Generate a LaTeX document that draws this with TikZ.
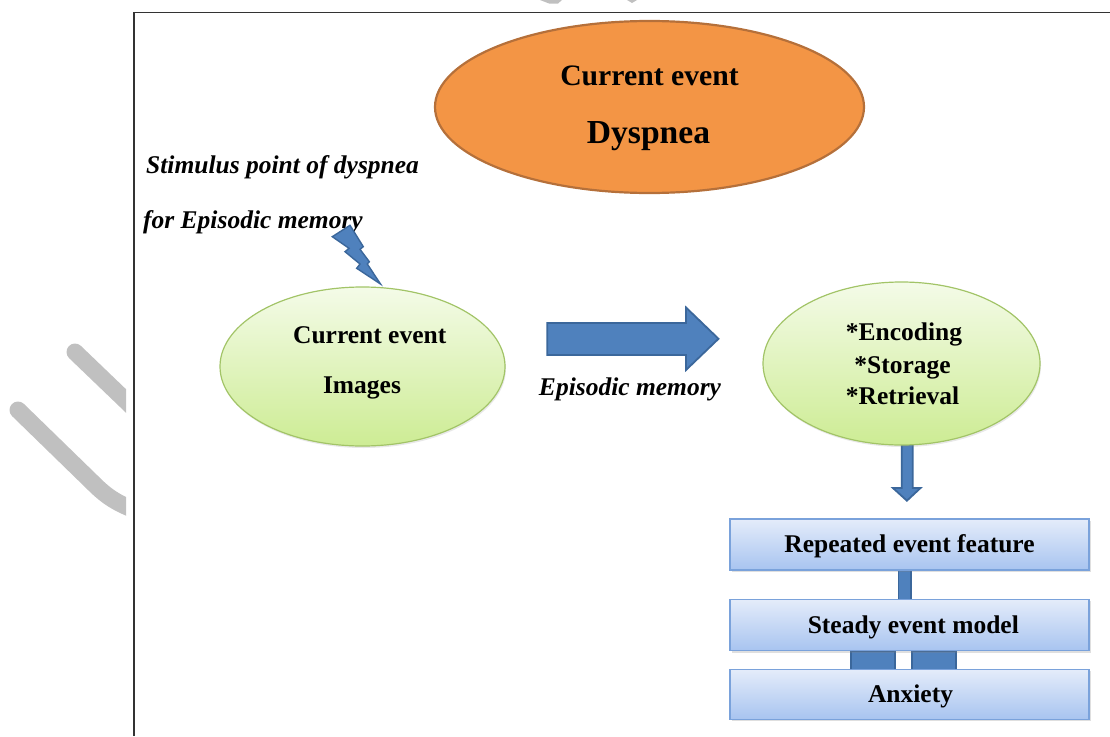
\documentclass[tikz,border=0pt]{standalone}
\usepackage{fontspec}
\setmainfont{Liberation Serif}
\usetikzlibrary{shapes.geometric,shadows,calc}

\definecolor{orangefill}{HTML}{F39545}
\definecolor{orangeline}{HTML}{B5703A}
\definecolor{greenline}{HTML}{A2C467}
\definecolor{greentop}{HTML}{F4FBE8}
\definecolor{greenbot}{HTML}{CDEC94}
\definecolor{arrowfill}{HTML}{4F81BD}
\definecolor{arrowline}{HTML}{3B679B}
\definecolor{boxtop}{HTML}{E4ECFA}
\definecolor{boxbot}{HTML}{A8C4F0}
\definecolor{boxline}{HTML}{7AA2DB}
\definecolor{markgray}{HTML}{C0C0C0}
\definecolor{framegray}{HTML}{333333}

\begin{document}
\begin{tikzpicture}[x=1pt,y=-1pt,
  txt/.style={inner sep=0pt, anchor=base, font=\bfseries\fontsize{25.5}{30}\selectfont},
  itxt/.style={inner sep=0pt, anchor=base west, font=\bfseries\itshape\fontsize{25.5}{30}\selectfont},
  greenell/.style={ellipse, draw=greenline, line width=1.2pt, inner sep=0pt,
    top color=greentop, bottom color=greenbot,
    drop shadow={shadow xshift=1pt, shadow yshift=-2pt, opacity=0.18}},
  stepbox/.style={rectangle, draw=boxline, line width=1.2pt, inner sep=0pt,
    minimum width=359pt, top color=boxtop, bottom color=boxbot,
    drop shadow={shadow xshift=1.5pt, shadow yshift=-2pt, opacity=0.25}},
  blockarrow/.style={fill=arrowfill, draw=arrowline, line width=1.8pt, line join=miter},
  wmark/.style={draw=markgray, line width=17pt, line cap=round, line join=round}
]
\useasboundingbox (0,0) rectangle (1110,736);

% faint marks at the page edge
\begin{scope}
  \clip (0,0) rectangle (126,736);
  \path[wmark] (75,352) -- (150,424);
  \path[wmark] (18,410) -- (92,482) .. controls (105,495) and (115,503) .. (140,512);
\end{scope}
\fill[markgray] (540,0) -- (562,0) -- (558,3.5) -- (549,3.5) -- cycle;
\fill[markgray] (627,0) -- (637,0) -- (632,3) -- cycle;

% frame
\draw[line width=1.5pt, framegray] (134,736) -- (134,12.7) -- (1110,12.7);

% current event
\node[ellipse, draw=orangeline, fill=orangefill, line width=2.2pt, inner sep=0pt,
      minimum width=429pt, minimum height=172pt] (event) at (649.5,107) {};
\node[txt, font=\bfseries\fontsize{29.7}{34}\selectfont] (evt1) at (649.5,85) {Current event};
\node[txt, font=\bfseries\fontsize{33.6}{38}\selectfont] (evt2) at (648.5,143) {Dyspnea};

% stimulus label
\node[itxt] (stim1) at (146,173) {Stimulus point of dyspnea};
\node[itxt] (stim2) at (143,228) {for Episodic memory};

% lightning bolt
\path[blockarrow, line width=1.4pt]
  (332.3,236.7) -- (350,225.3) -- (363.3,246.7) -- (360,249.3) -- (369.3,261.7)
  -- (367.3,264) -- (380.5,284) -- (356.7,268.3) -- (360,264) -- (345,251.7)
  -- (349,248.3) -- cycle;

% down arrow shaft behind the memory ellipse
\path[blockarrow] (901.7,440) -- (912.7,440) -- (912.7,488) -- (920.5,488)
  -- (906.9,500.7) -- (892.9,488) -- (901.7,488) -- cycle;

% current event images
\node[greenell, minimum width=285pt, minimum height=159pt] (images) at (362.5,366.5) {};
\node[txt] (img1) at (369.7,343) {Current event};
\node[txt] (img2) at (362,393) {Images};

% episodic memory arrow
\path[blockarrow] (547.3,323) -- (686,323) -- (686,307.5) -- (718.5,338.8)
  -- (686,370) -- (686,355) -- (547.3,355) -- cycle;
\node[txt, font=\bfseries\itshape\fontsize{25.5}{30}\selectfont] (epi) at (630,395) {Episodic memory};

% memory stages
\node[greenell, minimum width=277pt, minimum height=163pt] (memory) at (901.5,363.5) {};
\node[txt] (enc) at (904,340) {*Encoding};
\node[txt] (sto) at (902.5,373.2) {*Storage};
\node[txt] (ret) at (902.5,404.5) {*Retrieval};

% connectors between the boxes
\coordinate (b1s) at (909.5,570);
\coordinate (b2n) at (909.5,599.3);
\coordinate (b2s) at (909.5,650.7);
\coordinate (b3n) at (909.5,669.3);
\path[blockarrow, line width=1.6pt] ($(b1s)+(-11.2,0)$) rectangle ($(b2n)+(1.5,0)$);
\path[blockarrow, line width=1.6pt] ($(b2s)+(-58.5,0)$) rectangle ($(b3n)+(-14.5,0)$);
\path[blockarrow, line width=1.6pt] ($(b2s)+(2.5,0)$) rectangle ($(b3n)+(46.5,0)$);

% outcome boxes
\node[stepbox, minimum height=51pt] (box1) at (909.5,544.5) {};
\node[stepbox, minimum height=51.4pt] (box2) at (909.5,625) {};
\node[stepbox, minimum height=50pt] (box3) at (909.5,694.3) {};
\node[txt] (rep) at (909.5,552.2) {Repeated event feature};
\node[txt] (ste) at (913.3,633.2) {Steady event model};
\node[txt] (anx) at (910.5,702.5) {Anxiety};

\end{tikzpicture}
\end{document}
